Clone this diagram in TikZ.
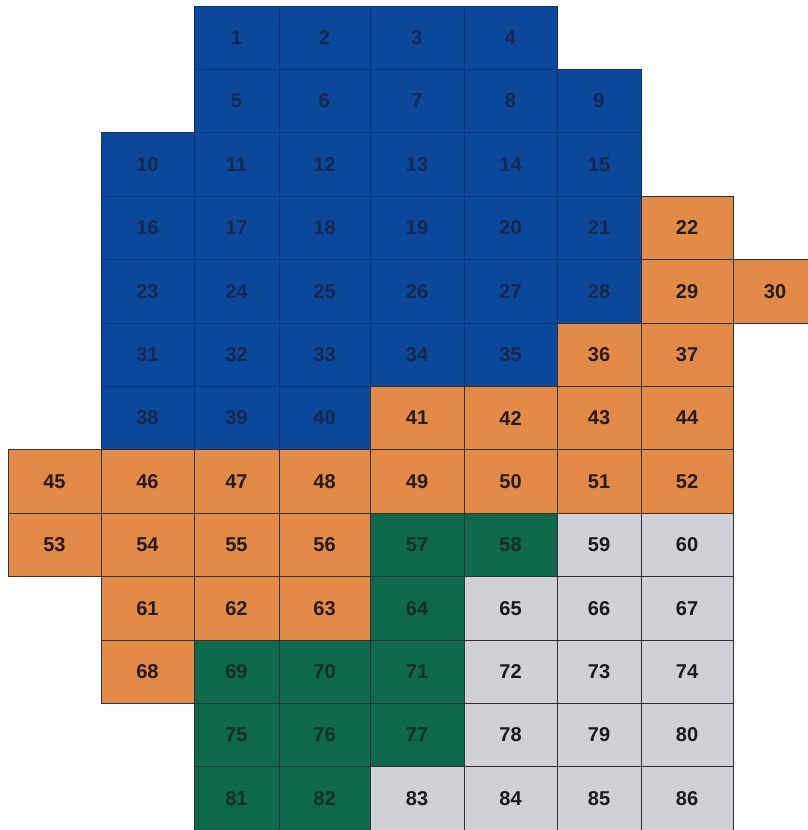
\documentclass[tikz,border=0pt]{standalone}
\usepackage{fontspec}
\setmainfont{Liberation Sans}
\definecolor{cblue}{RGB}{12,72,154}
\definecolor{corange}{RGB}{226,138,72}
\definecolor{cgreen}{RGB}{14,104,76}
\definecolor{cgrey}{RGB}{208,208,214}
\definecolor{tblue}{RGB}{22,40,80}
\definecolor{torange}{RGB}{40,26,18}
\definecolor{tgreen}{RGB}{16,48,40}
\definecolor{tgrey}{RGB}{26,26,30}
\definecolor{cline}{RGB}{50,48,55}
\definecolor{bline}{RGB}{10,55,120}
\def\colx{{8,101,194,279,370,464,557,641,733,817}}
\newcommand\mycell[4]{%
  \pgfmathsetmacro\myxa{\colx[#2]}%
  \pgfmathsetmacro\myxb{\colx[#2+1]}%
  \pgfmathsetmacro\mycw{\myxb-\myxa}%
  \pgfmathsetmacro\myxm{(\myxa+\myxb)/2}%
  \pgfmathsetmacro\myym{6+63.4*#3+31.7}%
  \node[#4, minimum width=\mycw pt] (c#1) at (\myxm,\myym) {#1};%
}
\begin{document}
\begin{tikzpicture}[x=1pt,y=-1pt,
  cell/.style={draw=cline, line width=0.7pt, inner sep=0pt, minimum height=63.4pt,
    font=\bfseries\fontsize{20}{20}\selectfont},
  bluecell/.style={cell, draw=bline, fill=cblue, text=tblue},
  orangecell/.style={cell, fill=corange, text=torange},
  greencell/.style={cell, fill=cgreen, text=tgreen},
  greycell/.style={cell, fill=cgrey, text=tgrey}]
\useasboundingbox (0,0) rectangle (807,830);
% row 0
\foreach \n/\c in {1/2,2/3,3/4,4/5} {\mycell{\n}{\c}{0}{bluecell}}
% row 1
\foreach \n/\c in {5/2,6/3,7/4,8/5,9/6} {\mycell{\n}{\c}{1}{bluecell}}
% row 2
\foreach \n/\c in {10/1,11/2,12/3,13/4,14/5,15/6} {\mycell{\n}{\c}{2}{bluecell}}
% row 3
\foreach \n/\c in {16/1,17/2,18/3,19/4,20/5,21/6} {\mycell{\n}{\c}{3}{bluecell}}
\mycell{22}{7}{3}{orangecell}
% row 4
\foreach \n/\c in {23/1,24/2,25/3,26/4,27/5,28/6} {\mycell{\n}{\c}{4}{bluecell}}
\foreach \n/\c in {29/7,30/8} {\mycell{\n}{\c}{4}{orangecell}}
% row 5
\foreach \n/\c in {31/1,32/2,33/3,34/4,35/5} {\mycell{\n}{\c}{5}{bluecell}}
\foreach \n/\c in {36/6,37/7} {\mycell{\n}{\c}{5}{orangecell}}
% row 6
\foreach \n/\c in {38/1,39/2,40/3} {\mycell{\n}{\c}{6}{bluecell}}
\foreach \n/\c in {41/4,42/5,43/6,44/7} {\mycell{\n}{\c}{6}{orangecell}}
% row 7
\foreach \n/\c in {45/0,46/1,47/2,48/3,49/4,50/5,51/6,52/7} {\mycell{\n}{\c}{7}{orangecell}}
% row 8
\foreach \n/\c in {53/0,54/1,55/2,56/3} {\mycell{\n}{\c}{8}{orangecell}}
\foreach \n/\c in {57/4,58/5} {\mycell{\n}{\c}{8}{greencell}}
\foreach \n/\c in {59/6,60/7} {\mycell{\n}{\c}{8}{greycell}}
% row 9
\foreach \n/\c in {61/1,62/2,63/3} {\mycell{\n}{\c}{9}{orangecell}}
\mycell{64}{4}{9}{greencell}
\foreach \n/\c in {65/5,66/6,67/7} {\mycell{\n}{\c}{9}{greycell}}
% row 10
\mycell{68}{1}{10}{orangecell}
\foreach \n/\c in {69/2,70/3,71/4} {\mycell{\n}{\c}{10}{greencell}}
\foreach \n/\c in {72/5,73/6,74/7} {\mycell{\n}{\c}{10}{greycell}}
% row 11
\foreach \n/\c in {75/2,76/3,77/4} {\mycell{\n}{\c}{11}{greencell}}
\foreach \n/\c in {78/5,79/6,80/7} {\mycell{\n}{\c}{11}{greycell}}
% row 12
\foreach \n/\c in {81/2,82/3} {\mycell{\n}{\c}{12}{greencell}}
\foreach \n/\c in {83/4,84/5,85/6,86/7} {\mycell{\n}{\c}{12}{greycell}}
\end{tikzpicture}
\end{document}
